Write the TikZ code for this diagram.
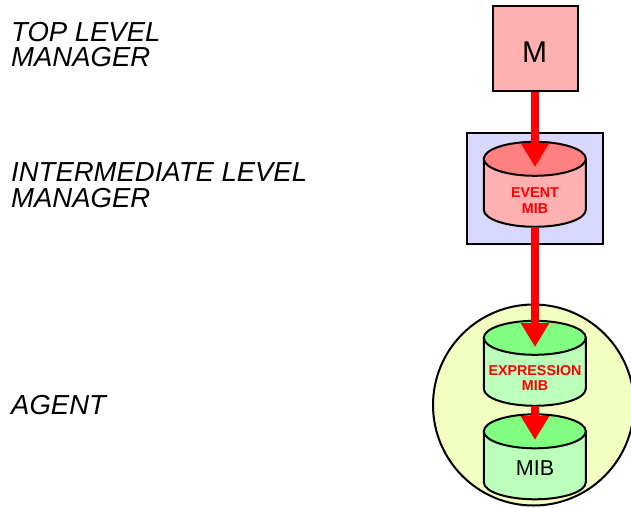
\documentclass[tikz,border=0pt]{standalone}
\usepackage{fontspec}
\setmainfont{Liberation Sans}
\usetikzlibrary{arrows.meta}
\definecolor{pinkbody}{HTML}{FFB0B0}
\definecolor{pinktop}{HTML}{FF8080}
\definecolor{bluebox}{HTML}{D8D8FF}
\definecolor{greenbody}{HTML}{BBFFBB}
\definecolor{greentop}{HTML}{80FF80}
\definecolor{agentfill}{HTML}{F3FFC0}
\tikzset{
  outline/.style={draw=black,line width=2pt},
  level/.style={anchor=base west,inner sep=0pt,align=left,font=\itshape\fontsize{27.5}{25.5}\selectfont},
  flow/.style={draw=red,line width=8pt,-{Triangle[length=24pt,width=27pt]},shorten >=0pt},
  dblabel/.style={inner sep=0pt,align=center,text=red,font=\bfseries\fontsize{14.3}{15.5}\selectfont},
  plainlabel/.style={inner sep=0pt,font=\fontsize{21.5}{24}\selectfont},
  cylbox/.style={inner sep=0pt,minimum width=102pt,minimum height=85pt}
}
% name, centre x, centre y, top colour, body colour
\newcommand{\dbcyl}[5]{%
  \node[cylbox] (#1) at (#2,#3) {};
  \path[outline,fill=#5] (#1.north west) ++(0,17) -- ++(0,51)
     arc[start angle=180,end angle=360,x radius=51pt,y radius=17pt] -- ++(0,-51) -- cycle;
  \path[outline,fill=#4] (#1.north west) ++(0,17)
     arc[start angle=180,end angle=540,x radius=51pt,y radius=17pt];
}
\begin{document}
\begin{tikzpicture}[x=1pt,y=-1pt]
\useasboundingbox (0,0) rectangle (631,508);
\node[outline,fill=agentfill,shape=circle,inner sep=0pt,minimum size=201pt] (agent) at (533.5,405) {};
\node[outline,fill=bluebox,inner sep=0pt,minimum width=136pt,minimum height=111pt] (ilm) at (535,188.5) {};
\node[outline,fill=pinkbody,inner sep=0pt,minimum size=85pt] (top) at (535,48.5) {};
\node[inner sep=0pt,font=\fontsize{30}{32}\selectfont] (toplabel) at (534.5,52.5) {M};
\dbcyl{evt}{535}{184.5}{pinktop}{pinkbody}
\dbcyl{expr}{535}{363.5}{greentop}{greenbody}
\dbcyl{mib}{535}{457}{greentop}{greenbody}
\node[dblabel] (evtlabel) at (535,200.5) {EVENT\\MIB};
\node[dblabel] (exprlabel) at (535,378) {EXPRESSION\\MIB};
\node[plainlabel] (miblabel) at (535,468.5) {MIB};
\coordinate (evttip) at (535,167);
\coordinate (exprtip) at (535,347);
\coordinate (mibtip) at (535,440);
\draw[flow] (top.south) -- (evttip);
\draw[flow] (evt.south) -- (exprtip);
\draw[flow] (expr.south) -- (mibtip);
\node[level] (l1) at (11,67) {TOP LEVEL\\MANAGER};
\node[level] (l2) at (11,207) {INTERMEDIATE LEVEL\\MANAGER};
\node[level] (l3) at (11,414) {AGENT};
\end{tikzpicture}
\end{document}
